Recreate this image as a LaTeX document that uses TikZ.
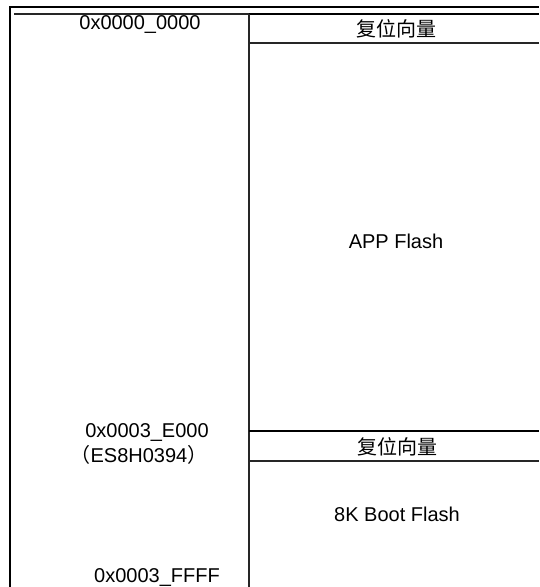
\documentclass[tikz,border=0pt]{standalone}
\usepackage{fontspec}
\setmainfont{Liberation Sans}
\newfontfamily\cjk{Noto Sans CJK SC}
\begin{document}
\begin{tikzpicture}[x=1pt,y=-1pt,
  lbl/.style={font=\fontsize{20}{22}\selectfont, inner sep=0pt, anchor=center},
  outer/.style={line width=1.6pt, black},
  inner/.style={line width=1.2pt, black!85}]
\useasboundingbox (0,0) rectangle (539,587);
% frame
\draw[outer] (9,7) -- (539,7);
\draw[outer] (10,6.2) -- (10,587);
\draw[inner] (14,14) -- (249,14);
\draw[outer] (249,14) -- (539,14);
\draw[inner] (249,14) -- (249,587);
\draw[inner] (249,43) -- (539,43);
\draw[outer] (249,431) -- (539,431);
\draw[inner] (249,461) -- (539,461);
% texts
\node[lbl] (a0) at (140,25) {0x0000\_0000};
\node[lbl] (rv1) at (396,29) {\cjk 复位向量};
\node[lbl] (app) at (396,241) {APP Flash};
\node[lbl] (a1) at (147,432) {0x0003\_E000};
\node[lbl] (es) at (139,455) {\cjk （\rmfamily ES8H0394\cjk ）};
\node[lbl] (rv2) at (397,447) {\cjk 复位向量};
\node[lbl] (boot) at (397,514) {8K Boot Flash};
\node[lbl] (a2) at (157,577) {0x0003\_FFFF};
\end{tikzpicture}
\end{document}
